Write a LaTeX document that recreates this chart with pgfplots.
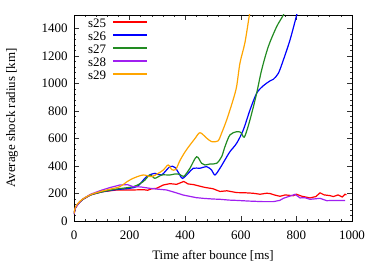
\documentclass[border=0pt]{standalone}
\usepackage{pgfplots}
\pgfplotsset{compat=1.18}
\usepackage{fontspec}
\setmainfont{Liberation Serif}
\definecolor{c25}{RGB}{255,0,0}
\definecolor{c26}{RGB}{0,0,255}
\definecolor{c27}{RGB}{34,139,34}
\definecolor{c28}{RGB}{160,32,240}
\definecolor{c29}{RGB}{255,165,0}
\begin{document}
\begin{tikzpicture}
\useasboundingbox (-74bp,-41bp) rectangle (300bp,221bp);
\begin{axis}[
  at={(0,0)}, anchor=south west,
  scale only axis, width=278bp, height=206bp,
  xmin=0, xmax=1000, ymin=0, ymax=1500,
  xtick={0,200,...,1000}, ytick={0,200,...,1400},
  minor x tick num=4, minor y tick num=4,
  tick align=inside, major tick length=5bp, minor tick length=2.5bp,
  tick style={black!80, line width=0.6pt},
  axis line style={black, line width=0.8pt},
  tick label style={font=\fontsize{13}{13}\selectfont},
  label style={font=\fontsize{13}{13}\selectfont},
  /pgf/number format/assume math mode=true,
  /pgf/number format/set thousands separator={},
  yticklabel style={xshift=-3bp},
  xticklabel style={yshift=-6bp},
  xlabel={Time after bounce [ms]},
  ylabel={Average shock radius [km]},
  xlabel style={at={(axis description cs:0.5,-0.17)}, anchor=center},
  ylabel style={at={(axis description cs:-0.223,0.5)}, anchor=center, rotate=0},
  legend style={draw=none, fill=none, inner sep=0pt, at={(axis description cs:0.05,0.983)}, anchor=north west,
    font=\fontsize{13}{13}\selectfont, nodes={inner sep=0pt, text height=9bp, text depth=4bp}, row sep=0pt, column sep=7bp},
  legend cell align=left,
  legend plot pos=right,
  legend image code/.code={\fill[#1, draw=none] (0bp,2.7bp) rectangle (34bp,4.3bp);},
  every axis plot/.append style={line width=1.2bp},
]
\addplot[c25] coordinates {
(0,50)(5,95)(15,125)(30,155)(60,190)(100,212)(150,225)(213,226)(250,228)(265,224)(280,235)(297,238)(321,262)(345,272)(369,267)(385,280)(395,288)(410,270)(430,265)(450,255)(470,245)(500,235)(525,215)(550,220)(585,207)(620,205)(645,202)(669,195)(693,202)(705,200)(720,190)(741,180)(760,190)(789,184)(800,195)(820,180)(849,168)(870,178)(885,205)(900,190)(920,185)(933,178)(950,190)(965,175)(975,195)(980,190)
};
\addlegendentry{s25}
\addplot[c26, smooth, tension=0.5] coordinates {
(0,50)(5,95)(15,125)(30,155)(60,190)(100,212)(150,228)(200,238)(230,255)(261,323)(291,347)(315,335)(345,396)(363,390)(378,345)(390,310)(411,347)(429,384)(453,384)(477,396)(495,371)(507,335)(525,384)(543,445)(561,505)(585,566)(609,663)(633,808)(657,930)(681,985)(705,1020)(717,1032)(735,1075)(753,1172)(777,1318)(801,1500)(810,1580)
};
\addlegendentry{s26}
\addplot[c27, smooth, tension=0.5] coordinates {
(0,50)(5,95)(15,125)(30,155)(60,190)(100,212)(150,232)(213,250)(249,287)(273,335)(291,311)(315,335)(345,335)(362,342)(380,340)(395,325)(417,384)(441,468)(459,420)(471,408)(489,415)(513,420)(531,468)(543,541)(561,627)(585,650)(600,645)(612,610)(625,680)(640,790)(657,930)(675,1100)(699,1270)(729,1415)(753,1500)(765,1560)
};
\addlegendentry{s27}
\addplot[c28] coordinates {
(0,50)(5,95)(15,125)(30,158)(60,195)(100,225)(132,245)(165,262)(192,265)(213,250)(240,248)(273,238)(300,232)(333,226)(360,210)(393,189)(420,178)(440,170)(465,165)(500,160)(525,158)(560,152)(585,150)(630,145)(681,141)(717,141)(740,150)(753,165)(775,180)(795,194)(805,180)(813,168)(830,170)(849,158)(870,162)(885,165)(909,148)(940,150)(975,150)
};
\addlegendentry{s28}
\addplot[c29, smooth, tension=0.5] coordinates {
(0,55)(5,100)(15,130)(30,158)(60,192)(94,214)(130,232)(165,250)(190,285)(213,311)(249,335)(279,323)(303,347)(321,371)(339,408)(351,375)(366,375)(381,440)(400,505)(417,553)(435,600)(453,643)(477,604)(495,578)(518,583)(531,640)(549,735)(572,880)(585,980)(597,1150)(615,1300)(631,1500)(640,1580)
};
\addlegendentry{s29}
\end{axis}
\end{tikzpicture}
\end{document}
